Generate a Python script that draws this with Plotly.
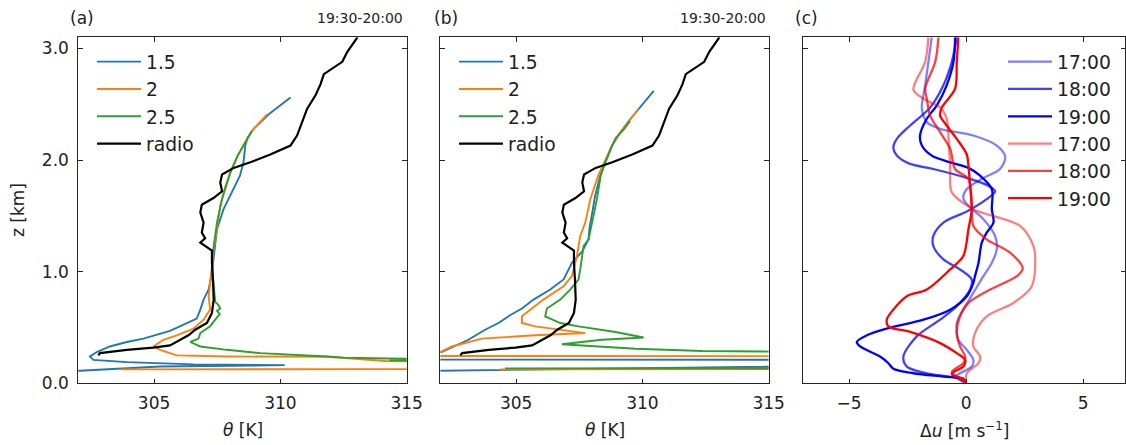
import plotly.graph_objects as go

# ---------------- radiosonde profile (shared by panels a and b) ----------------
radio_theta = [313.05, 312.65, 312.45, 312.05, 311.72, 311.59, 311.39, 311.06, 310.86, 310.66,
               310.40, 309.60, 308.81, 308.15, 307.69, 307.62, 307.69, 307.35, 306.89, 306.83,
               306.96, 306.89, 307.02, 306.83, 307.29, 307.29, 307.33, 307.36, 307.29, 307.09,
               306.63, 306.36, 305.63, 304.97, 303.92, 302.86, 302.79]
radio_z = [3.10, 2.97, 2.88, 2.82, 2.77, 2.68, 2.58, 2.46, 2.34, 2.22,
           2.13, 2.05, 1.98, 1.93, 1.87, 1.80, 1.72, 1.66, 1.60, 1.53,
           1.44, 1.35, 1.30, 1.26, 1.19, 1.08, 0.93, 0.75, 0.63, 0.54,
           0.48, 0.43, 0.34, 0.32, 0.30, 0.27, 0.25]

# ---------------- panel (a) model profiles ----------------
a15_theta = [310.40, 309.54, 308.94, 308.70, 308.61, 308.54, 308.40, 308.08, 307.75, 307.49,
             307.36, 307.29, 307.16, 306.96, 306.83, 306.69, 306.30, 305.63, 304.58, 303.92,
             303.25, 302.73, 302.46, 302.60, 303.92, 306.56, 310.17, 305.24, 302.06, 296.0]
a15_z = [2.56, 2.41, 2.28, 2.20, 2.13, 1.98, 1.86, 1.71, 1.56, 1.38,
         1.14, 0.99, 0.84, 0.75, 0.66, 0.58, 0.54, 0.47, 0.40, 0.37,
         0.33, 0.28, 0.24, 0.21, 0.19, 0.17, 0.163, 0.15, 0.112, 0.10]

a20_theta = [309.47, 308.87, 308.61, 308.31, 308.02, 307.80, 307.62, 307.49, 307.36, 307.29,
             307.22, 307.16, 307.22, 306.96, 306.56, 305.90, 305.37, 304.97, 305.24, 305.90,
             307.88, 311.85, 314.17, 318.0, 330.0, 303.7]
a20_z = [2.41, 2.26, 2.16, 2.04, 1.89, 1.75, 1.59, 1.41, 1.20, 1.05,
         0.90, 0.78, 0.66, 0.57, 0.49, 0.43, 0.39, 0.33, 0.30, 0.25,
         0.24, 0.238, 0.20, 0.19, 0.13, 0.125]

a25_theta = [308.87, 308.61, 308.31, 308.02, 307.85, 307.69, 307.49, 307.36, 307.29, 307.36,
             307.42, 307.55, 307.62, 307.49, 307.60, 307.42, 307.22, 306.83, 306.76, 306.43,
             306.83, 307.88, 309.21, 311.85, 312.51, 314.23, 319.0, 314.3, 319.0]
a25_z = [2.26, 2.16, 2.04, 1.89, 1.77, 1.65, 1.44, 1.23, 1.05, 0.84,
         0.73, 0.70, 0.67, 0.65, 0.62, 0.57, 0.51, 0.45, 0.40, 0.37,
         0.33, 0.30, 0.27, 0.24, 0.23, 0.222, 0.212, 0.205, 0.19]

# ---------------- panel (b) model profiles ----------------
b15_theta = [310.45, 309.85, 309.46, 309.13, 308.80, 308.53, 308.33, 308.13, 308.00, 307.90,
             307.87, 307.61, 307.21, 306.88, 306.35, 305.69, 305.23, 304.76, 304.30, 303.77,
             303.11, 302.05, 295.0, 295.0, 330.0, 330.0, 290.0]
b15_z = [2.62, 2.46, 2.35, 2.25, 2.13, 1.98, 1.86, 1.68, 1.50, 1.38,
         1.29, 1.18, 1.08, 0.93, 0.84, 0.75, 0.67, 0.61, 0.54, 0.48,
         0.39, 0.28, 0.23, 0.213, 0.209, 0.19, 0.08]

b20_theta = [309.85, 309.46, 309.13, 308.80, 308.50, 308.25, 307.94, 307.74, 307.54, 307.41,
             307.21, 306.88, 306.08, 305.42, 305.23, 305.23, 305.75, 307.74, 305.75, 303.64,
             302.45, 302.0, 290.0, 330.0, 330.0, 304.37]
b20_z = [2.46, 2.35, 2.25, 2.13, 1.98, 1.86, 1.65, 1.44, 1.32, 1.14,
         0.96, 0.87, 0.75, 0.64, 0.60, 0.54, 0.51, 0.45, 0.43, 0.40,
         0.33, 0.28, 0.245, 0.243, 0.13, 0.125]

b25_theta = [309.52, 309.35, 309.25, 308.95, 308.80, 308.53, 308.35, 308.20, 308.00, 307.87,
             307.67, 307.61, 307.54, 307.47, 307.14, 306.75, 306.22, 306.15, 306.75, 307.47,
             308.93, 310.05, 308.40, 306.81, 309.72, 312.37, 315.0, 330.0, 330.0, 304.56]
b25_z = [2.35, 2.30, 2.27, 2.20, 2.13, 1.98, 1.86, 1.65, 1.44, 1.29,
         1.23, 1.11, 1.02, 0.93, 0.84, 0.75, 0.67, 0.60, 0.54, 0.51,
         0.46, 0.41, 0.39, 0.35, 0.31, 0.29, 0.274, 0.25, 0.135, 0.134]

# ---------------- panel (c) wind differences ----------------
c_b17_du = [-1.47, -1.61, -1.75, -1.89, -1.68, -1.11, 0.31, 1.31, 1.67, 1.45, 0.74, 0.03, -0.12,
            0.10, 0.74, 1.24, 1.31, 1.10, 0.74, 0.31, -0.12, -0.40, -0.33, 0.03, 0.31, 0.24,
            -0.26, -0.45, 0.0]
c_b17_z = [3.10, 2.88, 2.67, 2.46, 2.34, 2.28, 2.22, 2.13, 2.03, 1.92, 1.84, 1.74, 1.66,
           1.59, 1.47, 1.32, 1.20, 1.08, 0.96, 0.81, 0.66, 0.54, 0.39, 0.30, 0.21, 0.15,
           0.09, 0.06, 0.0]

c_b18_du = [-0.40, -0.61, -0.97, -1.54, -2.39, -2.96, -3.11, -2.96, -2.45, -1.40, 0.03, 0.95,
            1.24, 0.88, 0.03, -0.97, -1.40, -1.40, -0.97, -0.26, 0.24, 0.17, -0.40, -1.11,
            -2.11, -2.68, -2.53, -1.68, -0.26, 0.0]
c_b18_z = [3.10, 2.88, 2.67, 2.47, 2.31, 2.19, 2.11, 2.04, 1.97, 1.92, 1.84, 1.77,
           1.72, 1.65, 1.54, 1.44, 1.32, 1.23, 1.11, 1.02, 0.93, 0.84, 0.69, 0.57,
           0.42, 0.24, 0.15, 0.09, 0.04, 0.0]

c_b19_du = [-0.47, -0.54, -0.83, -1.25, -1.68, -1.97, -1.89, -1.47, -0.68, 0.10, 0.60, 1.10,
            1.10, 1.17, 0.88, 0.67, 0.53, 0.38, 0.31, 0.03, -0.68, -1.82, -3.39, -4.24,
            -4.67, -4.53, -3.68, -3.32, -3.11, -2.25, -0.97, -0.12, 0.0]
c_b19_z = [3.10, 2.88, 2.67, 2.49, 2.37, 2.22, 2.13, 2.04, 1.98, 1.93, 1.86, 1.74,
           1.56, 1.44, 1.35, 1.26, 1.08, 0.96, 0.90, 0.78, 0.66, 0.57, 0.49, 0.43,
           0.37, 0.33, 0.24, 0.18, 0.13, 0.09, 0.06, 0.04, 0.0]

c_r17_du = [-1.61, -1.75, -2.25, -1.82, -1.11, -0.83, -0.75, -0.68, -0.68, -0.61, 0.31, 2.31,
            2.88, 2.95, 2.81, 2.02, 0.88, 0.38, 0.31, 0.60, 0.53, 0.03, 0.0]
c_r17_z = [3.10, 2.88, 2.63, 2.55, 2.47, 2.37, 2.19, 1.92, 1.83, 1.71, 1.56, 1.41,
           1.23, 1.14, 0.87, 0.72, 0.60, 0.45, 0.33, 0.24, 0.18, 0.09, 0.0]

c_r18_du = [-1.18, -1.32, -1.75, -1.68, -1.54, -1.11, -0.68, -0.47, 0.10, 0.24, 0.31, 0.88,
            1.88, 2.42, 2.17, 1.03, 0.10, -0.26, -0.40, -0.26, -0.04, -0.12, -0.61, -0.26, 0.0]
c_r18_z = [3.10, 2.88, 2.64, 2.55, 2.40, 2.25, 2.10, 1.92, 1.83, 1.59, 1.41, 1.29,
           1.17, 1.03, 0.96, 0.84, 0.72, 0.60, 0.45, 0.33, 0.24, 0.18, 0.10, 0.04, 0.0]

c_r19_du = [-0.33, -0.40, -0.47, -1.04, -1.11, -0.83, -0.40, 0.03, 0.10, 0.17, 0.24, 0.10,
            -0.12, -0.68, -1.68, -2.53, -3.11, -3.39, -3.32, -2.39, -1.11, -0.40, -0.04,
            -0.12, -0.54, -0.61, -0.12, 0.0]
c_r19_z = [3.10, 2.88, 2.64, 2.47, 2.40, 2.31, 2.19, 2.05, 1.95, 1.77, 1.56, 1.38,
           1.14, 1.02, 0.84, 0.78, 0.66, 0.57, 0.51, 0.46, 0.36, 0.27, 0.21,
           0.15, 0.10, 0.08, 0.04, 0.0]

run_labels = ["1.5", "2", "2.5", "radio"]
time_labels = ["17:00", "18:00", "19:00"]
theta_ticks = [305, 310, 315]
du_ticks = [-5, 0, 5]
du_ticklabels = ["\u22125", "0", "5"]
z_ticks = [0, 1, 2, 3]
z_ticklabels = ["0.0", "1.0", "2.0", "3.0"]
window_text = "19:30-20:00"

W, H = 1126, 445
FONT = "DejaVu Sans"
TAB = ["#1f77b4", "#ff7f0e", "#2ca02c", "#000000"]

fig = go.Figure()

def add_theta_panel(n, legend, series):
    xa = "x" if n == 1 else f"x{n}"
    ya = "y" if n == 1 else f"y{n}"
    for (th, zz), name, col in zip(series, run_labels, TAB):
        fig.add_trace(go.Scatter(
            x=th, y=zz, mode="lines", name=name, legend=legend,
            line=dict(color=col, width=2.2 if name == "radio" else 1.9),
            xaxis=xa, yaxis=ya, showlegend=True, cliponaxis=True))

add_theta_panel(1, "legend", [(a15_theta, a15_z), (a20_theta, a20_z),
                              (a25_theta, a25_z), (radio_theta, radio_z)])
add_theta_panel(2, "legend2", [(b15_theta, b15_z), (b20_theta, b20_z),
                               (b25_theta, b25_z), (radio_theta, radio_z)])

c_series = [
    (c_b17_du, c_b17_z, "rgba(0,0,255,0.5)"),
    (c_b18_du, c_b18_z, "rgba(0,0,255,0.75)"),
    (c_b19_du, c_b19_z, "rgba(0,0,255,1)"),
    (c_r17_du, c_r17_z, "rgba(255,0,0,0.5)"),
    (c_r18_du, c_r18_z, "rgba(255,0,0,0.75)"),
    (c_r19_du, c_r19_z, "rgba(255,0,0,1)"),
]
for i, (du, zz, col) in enumerate(c_series):
    fig.add_trace(go.Scatter(
        x=du, y=zz, mode="lines", name=time_labels[i % 3], legend="legend3",
        line=dict(color=col, width=2.3, shape="spline", smoothing=0.9),
        xaxis="x3", yaxis="y3"))

# axis geometry (pixels -> paper fractions)
ybot, ytop = 1 - 383.3 / H, 1 - 37.3 / H
doms = [(78.3 / W, 406.7 / W), (440.4 / W, 768.6 / W), (803 / W, 1125 / W)]

axis_common = dict(showline=True, linecolor="#262626", linewidth=1, mirror="allticks",
                   ticks="inside", ticklen=4.5, tickwidth=1, tickcolor="#262626",
                   showgrid=False, zeroline=False, automargin=False,
                   tickfont=dict(family=FONT, size=17, color="#222"))

lay = dict(
    width=W, height=H, margin=dict(l=0, r=0, t=0, b=0),
    paper_bgcolor="white", plot_bgcolor="white",
    font=dict(family=FONT, size=17, color="#222"),
)
for n, (d0, d1) in enumerate(doms, start=1):
    sx = "" if n == 1 else str(n)
    if n < 3:
        xr, xt, xl = [302, 315], theta_ticks, [str(v) for v in theta_ticks]
    else:
        xr, xt, xl = [-6.97, 6.79], du_ticks, du_ticklabels
    lay[f"xaxis{sx}"] = dict(axis_common, domain=[d0, d1], range=xr, tickvals=xt,
                             ticktext=xl, anchor=f"y{sx}", ticklabelstandoff=4)
    lay[f"yaxis{sx}"] = dict(axis_common, domain=[ybot, ytop], range=[0, 3.1],
                             tickvals=z_ticks, ticktext=z_ticklabels,
                             showticklabels=(n == 1), anchor=f"x{sx}",
                             ticklabelstandoff=5)

leg = dict(bgcolor="rgba(0,0,0,0)", borderwidth=0,
           font=dict(family=FONT, size=18.7, color="#222"),
           xanchor="left", yanchor="top", tracegroupgap=0, itemwidth=44)
lay["legend"] = dict(leg, x=92 / W, y=1 - 43 / H)
lay["legend2"] = dict(leg, x=454 / W, y=1 - 43 / H)
lay["legend3"] = dict(leg, x=1003 / W, y=1 - 43 / H)

fig.update_layout(**lay)

ann = []
for lbl, x0 in [("(a)", 68), ("(b)", 432), ("(c)", 793)]:
    ann.append(dict(text=lbl, x=x0 / W, y=1 - 18 / H, xref="paper", yref="paper",
                    xanchor="left", yanchor="middle", showarrow=False,
                    font=dict(family=FONT, size=17, color="#222")))
for x1 in (405, 768):
    ann.append(dict(text=window_text, x=x1 / W, y=1 - 18 / H, xref="paper", yref="paper",
                    xanchor="right", yanchor="middle", showarrow=False,
                    font=dict(family=FONT, size=14, color="#222")))
for txt, xc in [("<i>θ</i> [K]", 242.5), ("<i>θ</i> [K]", 604.5),
                ("Δ<i>u</i> [m s<sup>\u22121</sup>]", 964)]:
    ann.append(dict(text=txt, x=xc / W, y=1 - 430 / H, xref="paper", yref="paper",
                    xanchor="center", yanchor="middle", showarrow=False,
                    font=dict(family=FONT, size=17, color="#222")))
ann.append(dict(text="z [km]", x=18 / W, y=1 - 210 / H, xref="paper", yref="paper",
                xanchor="center", yanchor="middle", showarrow=False, textangle=-90,
                font=dict(family=FONT, size=17, color="#222")))
fig.update_layout(annotations=ann)

fig.write_html("out.html")
